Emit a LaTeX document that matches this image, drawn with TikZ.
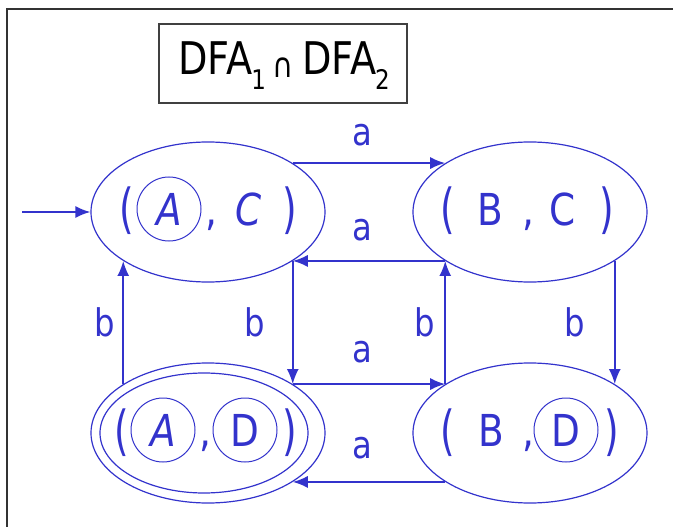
\documentclass[tikz,border=0pt]{standalone}
\usepackage{fontspec}
\setmainfont[FakeStretch=0.85]{DejaVu Sans}
\usetikzlibrary{shapes.geometric,arrows.meta}
\definecolor{fsa}{RGB}{51,51,204}
\newcommand\tallp[1]{\raisebox{-3pt}{\scalebox{1}[1.22]{#1}}}
\begin{document}
\begin{tikzpicture}[x=1pt,y=-1pt,
 state/.style={draw=fsa,ellipse,line width=1.2pt,minimum width=234pt,minimum height=140pt,inner sep=0pt},
 sub/.style={draw=fsa,circle,line width=1pt,minimum size=64pt,inner sep=0pt,text=fsa,font=\fontsize{44}{44}\selectfont},
 glyph/.style={text=fsa,font=\fontsize{44}{44}\selectfont,inner sep=0pt,anchor=base},
 lab/.style={text=fsa,font=\fontsize{38}{38}\selectfont,inner sep=0pt},
 edge/.style={draw=fsa,line width=1.8pt,-{Latex[length=15pt,width=12pt]}}]
\useasboundingbox (0,0) rectangle (673,527);
\clip (0,0) rectangle (673,527);
\draw[line width=2pt,black!80] (7,9) rectangle (720,600);
% title
\node[draw=black!75,line width=1.5pt,minimum width=248pt,minimum height=79pt,inner sep=0pt] (title) at (283,63.5) {};
\node[inner sep=0pt,anchor=base,font=\fontsize{45}{45}\selectfont] (titletext) at (284,75)
 {DFA\kern-1pt\raisebox{-15pt}{\fontsize{27}{27}\selectfont 1}\kern7pt\raisebox{-2pt}{\fontsize{34}{34}\selectfont ∩}\kern8pt DFA\kern-1pt\raisebox{-15pt}{\fontsize{27}{27}\selectfont 2}};
% states
\node[state] (AC) at (208,212) {};
\node[state] (BC) at (530,212) {};
\node[state] (AD) at (208,433) {};
\node[state] (BD) at (530,433) {};
\draw[fsa,line width=1.2pt] ([xshift=-4pt]AD.center) ellipse [x radius=104pt, y radius=60pt];
% (A,C)
\node[glyph] (ac1) at (127,225) {\tallp{(}};
\node[sub] (acA) at (169,209) {\itshape A};
\node[glyph] (ac2) at (211,225) {,};
\node[glyph] (acC) at (249,225) {\itshape C};
\node[glyph] (ac3) at (290,225) {\tallp{)}};
% (B,C)
\node[glyph] (bc1) at (448,225) {\tallp{(}};
\node[glyph] (bcB) at (490,225) {B};
\node[glyph] (bc2) at (528,225) {,};
\node[glyph] (bcC) at (563,225) {C};
\node[glyph] (bc3) at (607,225) {\tallp{)}};
% (A,D)
\node[glyph] (ad1) at (122,446) {\tallp{(}};
\node[sub] (adA) at (163,430) {\itshape A};
\node[glyph] (ad2) at (205,446) {,};
\node[sub] (adD) at (245,430) {D};
\node[glyph] (ad3) at (290,446) {\tallp{)}};
% (B,D)
\node[glyph] (bd1) at (448,446) {\tallp{(}};
\node[glyph] (bdB) at (491,446) {B};
\node[glyph] (bd2) at (528,446) {,};
\node[sub] (bdD) at (566,430) {D};
\node[glyph] (bd3) at (612,446) {\tallp{)}};
% edges
\coordinate (start) at (22,212);
\draw[edge] (start) -- (AC.west);
\draw[edge] (AC.30) -- (BC.150);
\draw[edge] (BC.-150) -- (AC.-30);
\draw[edge] (AC.-30) -- (AD.30);
\draw[edge] (AD.150) -- (AC.-150);
\draw[edge] (BD.150) -- (BC.-150);
\draw[edge] (BC.-30) -- (BD.30);
\draw[edge] (AD.30) -- (BD.150);
\draw[edge] (BD.-150) -- (AD.-30);
% labels
\node[lab] (l1) at (362,135) {a};
\node[lab] (l2) at (362,230) {a};
\node[lab] (l3) at (362,352) {a};
\node[lab] (l4) at (362,448) {a};
\node[lab] (l5) at (105,322) {b};
\node[lab] (l6) at (255,322) {b};
\node[lab] (l7) at (425,322) {b};
\node[lab] (l8) at (575,322) {b};
\end{tikzpicture}
\end{document}
